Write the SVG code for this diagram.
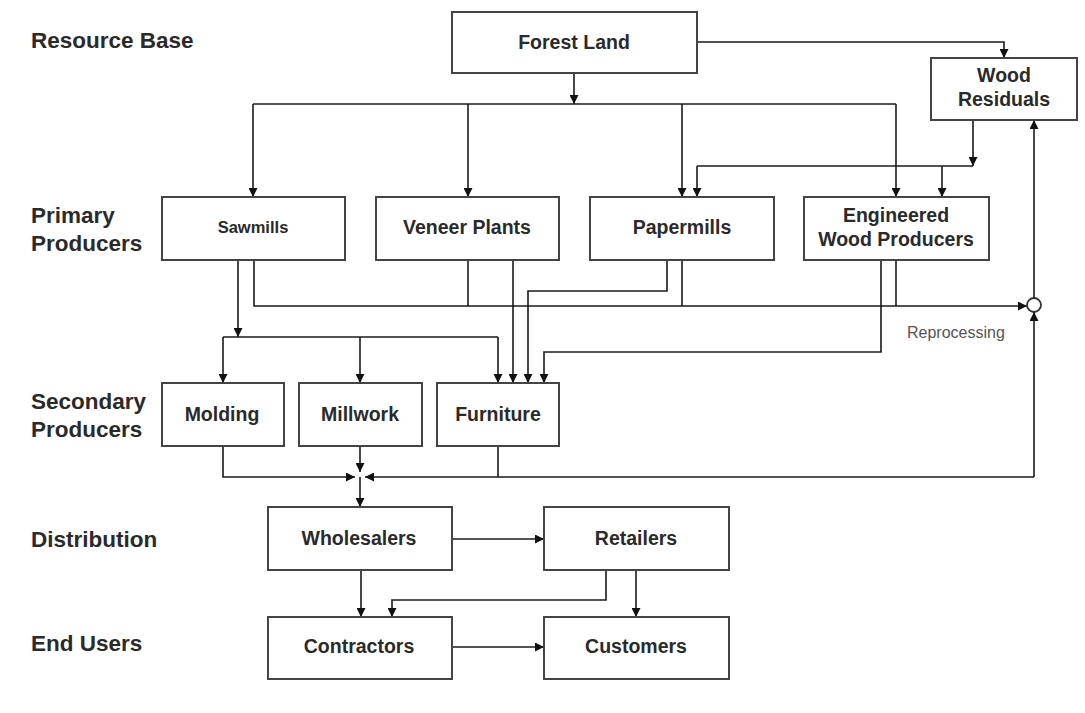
<svg xmlns="http://www.w3.org/2000/svg" width="1085" height="713" viewBox="0 0 1085 713">
<style>
.box{fill:#fff;stroke:#444;stroke-width:2}
.t{font-family:"Liberation Sans",Arial,sans-serif;font-weight:bold;font-size:19.5px;fill:#2a2a2a;text-anchor:middle}
.lab{font-family:"Liberation Sans",Arial,sans-serif;font-weight:bold;font-size:22.5px;fill:#2a2a2a}
.ln{fill:none;stroke:#1a1a1a;stroke-width:1.6}
.a{marker-end:url(#ah)}
</style>
<defs>
<marker id="ah" markerUnits="userSpaceOnUse" markerWidth="9" markerHeight="9" refX="9" refY="4.5" orient="auto">
<path d="M0,0 L9,4.5 L0,9 z" fill="#111"/>
</marker>
</defs>
<rect width="1085" height="713" fill="#fff"/>
<g id="labels">
<text class="lab" x="31" y="48">Resource Base</text>
<text class="lab" x="31" y="223">Primary</text>
<text class="lab" x="31" y="251">Producers</text>
<text class="lab" x="31" y="409">Secondary</text>
<text class="lab" x="31" y="437">Producers</text>
<text class="lab" x="31" y="547">Distribution</text>
<text class="lab" x="31" y="651">End Users</text>
</g>
<g id="connectors">
<path class="ln a" d="M574,73 V104"/>
<path class="ln" d="M253,104 H896"/>
<path class="ln a" d="M253,104 V197"/>
<path class="ln a" d="M468,104 V197"/>
<path class="ln a" d="M682,104 V197"/>
<path class="ln a" d="M896,104 V197"/>
<path class="ln a" d="M697,42 H1004 V58"/>
<path class="ln a" d="M973,120 V166"/>
<path class="ln" d="M697,166 H973"/>
<path class="ln a" d="M697,166 V197"/>
<path class="ln a" d="M942,166 V197"/>
<path class="ln a" d="M238,260 V337"/>
<path class="ln" d="M223,337 H498"/>
<path class="ln a" d="M223,337 V383"/>
<path class="ln a" d="M360,337 V383"/>
<path class="ln a" d="M498,337 V383"/>
<path class="ln a" d="M254,260 V306 H1027"/>
<path class="ln" d="M468,260 V306"/>
<path class="ln" d="M682,260 V306"/>
<path class="ln" d="M896,260 V306"/>
<path class="ln a" d="M513,260 V383"/>
<path class="ln a" d="M667,260 V291 H528 V383"/>
<path class="ln a" d="M881,260 V352 H544 V383"/>
<circle cx="1034" cy="305" r="7" fill="#fff" stroke="#333" stroke-width="1.8"/>
<path class="ln a" d="M1034,298 V120"/>
<path class="ln a" d="M1034,477 V312"/>
<path class="ln a" d="M1034,477 H365"/>
<path class="ln a" d="M223,446 V477 H355"/>
<path class="ln a" d="M360,446 V472"/>
<path class="ln" d="M498,446 V477"/>
<path class="ln a" d="M360,477 V507"/>
<path class="ln a" d="M452,539 H544"/>
<path class="ln a" d="M361,570 V617"/>
<path class="ln a" d="M606,570 V600 H392 V617"/>
<path class="ln a" d="M636,570 V617"/>
<path class="ln a" d="M452,647 H544"/>
<text x="907" y="338" font-family="Liberation Sans, Arial, sans-serif" font-size="16" fill="#555">Reprocessing</text>
</g>
<g id="forest-land"><rect class="box" x="452" y="12" width="245" height="61"/><text class="t" x="574" y="49">Forest Land</text></g>
<g id="wood-residuals"><rect class="box" x="931" y="58" width="146" height="62"/><text class="t" x="1004" y="82">Wood</text><text class="t" x="1004" y="106">Residuals</text></g>
<g id="sawmills"><rect class="box" x="162" y="197" width="183" height="63"/><text class="t" x="253" y="233" style="font-size:16.5px">Sawmills</text></g>
<g id="veneer-plants"><rect class="box" x="376" y="197" width="183" height="63"/><text class="t" x="467" y="234">Veneer Plants</text></g>
<g id="papermills"><rect class="box" x="590" y="197" width="184" height="63"/><text class="t" x="682" y="234">Papermills</text></g>
<g id="engineered-wood"><rect class="box" x="804" y="197" width="185" height="63"/><text class="t" x="896" y="222">Engineered</text><text class="t" x="896" y="246">Wood Producers</text></g>
<g id="molding"><rect class="box" x="162" y="383" width="122" height="63"/><text class="t" x="222" y="421">Molding</text></g>
<g id="millwork"><rect class="box" x="299" y="383" width="123" height="63"/><text class="t" x="360" y="421">Millwork</text></g>
<g id="furniture"><rect class="box" x="437" y="383" width="122" height="63"/><text class="t" x="498" y="421">Furniture</text></g>
<g id="wholesalers"><rect class="box" x="268" y="507" width="184" height="63"/><text class="t" x="359" y="545">Wholesalers</text></g>
<g id="retailers"><rect class="box" x="544" y="507" width="185" height="63"/><text class="t" x="636" y="545">Retailers</text></g>
<g id="contractors"><rect class="box" x="268" y="617" width="184" height="62"/><text class="t" x="359" y="653">Contractors</text></g>
<g id="customers"><rect class="box" x="544" y="617" width="185" height="62"/><text class="t" x="636" y="653">Customers</text></g>
</svg>
